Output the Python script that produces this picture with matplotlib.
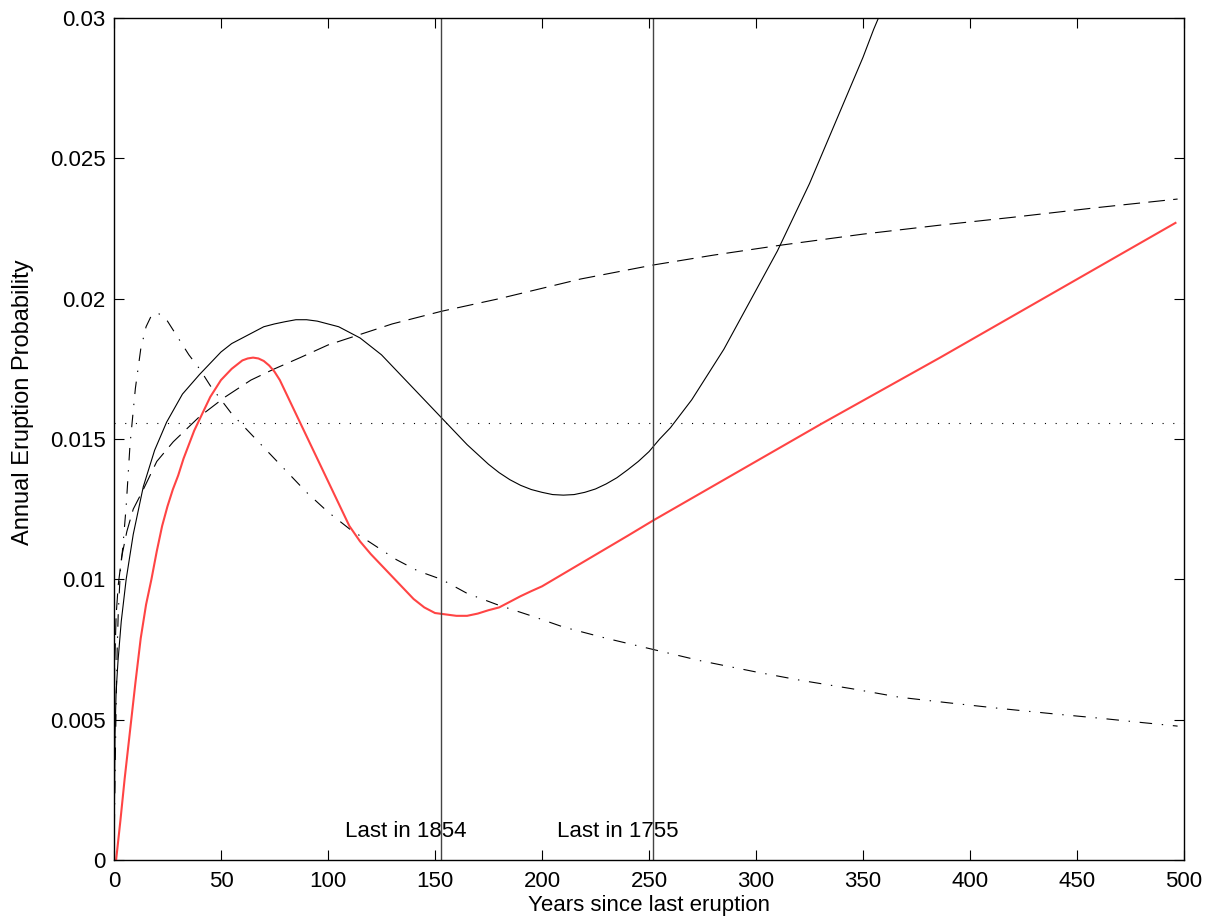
import matplotlib
matplotlib.use("Agg")
import matplotlib.pyplot as plt

plt.rcParams['font.family'] = ['Liberation Sans', 'DejaVu Sans']
plt.rcParams['lines.scale_dashes'] = False

# black solid curve
solid_x = [0, 0.5, 1, 1.9, 3.4, 5.7, 9, 13.7, 19, 24.6, 32, 40, 45, 50, 55, 60, 65, 70,
           75, 80, 85, 90, 95, 100, 105, 110, 115, 120, 125, 130, 135, 140, 145, 150,
           155, 160, 165, 170, 175, 180, 185, 190, 195, 200, 205, 210, 215, 220, 225,
           230, 235, 240, 245, 250, 255, 260, 265, 270, 275, 280, 285, 290, 295, 300,
           305, 310, 315, 320, 325, 330, 335, 340, 345, 350, 355, 360]
solid_y = [0, 0.0045, 0.0060, 0.0071, 0.0085, 0.0100, 0.0116, 0.0133, 0.0146, 0.0156,
           0.0166, 0.0173, 0.0177, 0.0181, 0.0184, 0.0186, 0.0188, 0.0190, 0.0191,
           0.01918, 0.01925, 0.01925, 0.0192, 0.0191, 0.0190, 0.0188, 0.0186, 0.0183,
           0.0180, 0.0176, 0.0172, 0.0168, 0.0164, 0.0160, 0.0156, 0.0152, 0.0148,
           0.01445, 0.0141, 0.0138, 0.01355, 0.01335, 0.0132, 0.0131, 0.01302, 0.0130,
           0.01302, 0.0131, 0.01322, 0.0134, 0.01362, 0.0139, 0.0142, 0.01455, 0.0150,
           0.0154, 0.0159, 0.0164, 0.0170, 0.0176, 0.0182, 0.0189, 0.0196, 0.0203,
           0.0210, 0.0217, 0.0225, 0.0233, 0.0241, 0.0250, 0.0259, 0.0268, 0.0277,
           0.0286, 0.0296, 0.0305]

# dashed curve
dashed_x = [0, 0.3, 1, 2, 3.6, 6, 9, 13.7, 20, 27.7, 40, 52, 64, 75, 87, 100, 110, 130,
            153, 180, 218, 252, 280, 311, 350, 386, 420, 460, 497]
dashed_y = [0, 0.0068, 0.0087, 0.0098, 0.0108, 0.0117, 0.0125, 0.0132, 0.0142, 0.0149,
            0.0158, 0.0165, 0.0171, 0.0175, 0.0179, 0.01835, 0.0186, 0.0191, 0.01955,
            0.0200, 0.0207, 0.0212, 0.02155, 0.0219, 0.0223, 0.02262, 0.0229, 0.02325,
            0.02355]

# dash-dot curve
dashdot_x = [0, 0.5, 1, 1.5, 2, 3, 4.2, 5.7, 7.5, 10, 12.5, 15, 17.5, 20, 22.5, 25, 30,
             35, 40, 45, 50, 55, 60, 65, 70, 80, 90, 100, 110, 120, 132, 142, 153, 165,
             179, 195, 210, 230, 252, 274, 300, 321, 345, 367, 390, 414, 440, 461, 480,
             497]
dashdot_y = [0, 0.0030, 0.0055, 0.0075, 0.0088, 0.0103, 0.0112, 0.0126, 0.0148, 0.0168,
             0.0182, 0.0190, 0.0194, 0.0195, 0.0194, 0.0192, 0.0186, 0.0180, 0.0175,
             0.0169, 0.0164, 0.0159, 0.0155, 0.0151, 0.0147, 0.0139, 0.0131, 0.0124,
             0.0118, 0.0113, 0.0107, 0.0103, 0.0100, 0.0095, 0.0091, 0.0087, 0.0083,
             0.0079, 0.0075, 0.0071, 0.0067, 0.0064, 0.0061, 0.0058, 0.0056, 0.0054,
             0.0052, 0.00505, 0.0049, 0.00477]

# red curve
red_x = [1, 3, 5, 7.5, 10, 12.5, 15, 17.5, 20, 22.5, 25, 27.5, 30, 32.5, 35, 37.5, 40,
         42.5, 45, 47.5, 50, 52.5, 55, 57.5, 60, 62.5, 65, 67.5, 70, 72.5, 75, 77.5, 80,
         85, 90, 95, 100, 105, 110, 115, 120, 125, 130, 135, 140, 145, 150, 155, 160,
         165, 170, 175, 180, 185, 190, 195, 200, 210, 220, 230, 240, 252, 331, 386, 496]
red_y = [0, 0.0014, 0.0029, 0.0046, 0.0063, 0.0079, 0.0091, 0.0100, 0.0110, 0.0119,
         0.0126, 0.0132, 0.0137, 0.0143, 0.0148, 0.0153, 0.0157, 0.0161, 0.0165, 0.0168,
         0.0171, 0.0173, 0.0175, 0.01765, 0.0178, 0.01787, 0.0179, 0.01787, 0.01778,
         0.01762, 0.0174, 0.0171, 0.0167, 0.0159, 0.0151, 0.0143, 0.0135, 0.0127,
         0.0119, 0.01135, 0.0109, 0.0105, 0.0101, 0.0097, 0.0093, 0.0090, 0.0088,
         0.00875, 0.0087, 0.0087, 0.00878, 0.0089, 0.0090, 0.0092, 0.0094, 0.00958,
         0.00975, 0.0102, 0.01065, 0.0111, 0.01155, 0.0121, 0.01556, 0.0179, 0.0227]

mean_rate = 0.01557
last_years = [153, 252]
last_labels = ['Last in 1854', 'Last in 1755']

fig = plt.figure(figsize=(12.15, 9.19), dpi=100)
ax = fig.add_axes([0.0938, 0.0642, 0.8807, 0.9162])

ax.plot(solid_x, solid_y, color='black', lw=0.8)
ax.plot(dashed_x, dashed_y, color='black', lw=0.8, dashes=(12, 6))
ax.plot(dashdot_x, dashdot_y, color='black', lw=0.8, dashes=(9, 7, 1, 7))
ax.axhline(mean_rate, color='black', lw=0.8, dashes=(0.8, 6.9))
ax.plot(red_x, red_y, color='#ff4444', lw=1.5)

for yr, lab in zip(last_years, last_labels):
    ax.axvline(yr, color='#444444', lw=1.0)
    ax.text(yr - 45, 0.001, lab, fontsize=16, va='center', ha='left')

ax.set_xlim(0, 500)
ax.set_ylim(0, 0.03)
ax.set_xticks(range(0, 501, 50))
ax.set_yticks([0, 0.005, 0.01, 0.015, 0.02, 0.025, 0.03])
ax.set_yticklabels(['0', '0.005', '0.01', '0.015', '0.02', '0.025', '0.03'])
ax.tick_params(direction='in', top=True, right=True, length=7, width=0.8,
               labelsize=16, pad=8)
ax.tick_params(axis='y', pad=6)
for s in ax.spines.values():
    s.set_linewidth(1.0)

ax.set_xlabel('Years since last eruption', fontsize=16, labelpad=2)
ax.set_ylabel('Annual Eruption Probability', fontsize=17)
ax.yaxis.set_label_coords(-0.075, 0.544)

fig.savefig('out.png', dpi=100)
